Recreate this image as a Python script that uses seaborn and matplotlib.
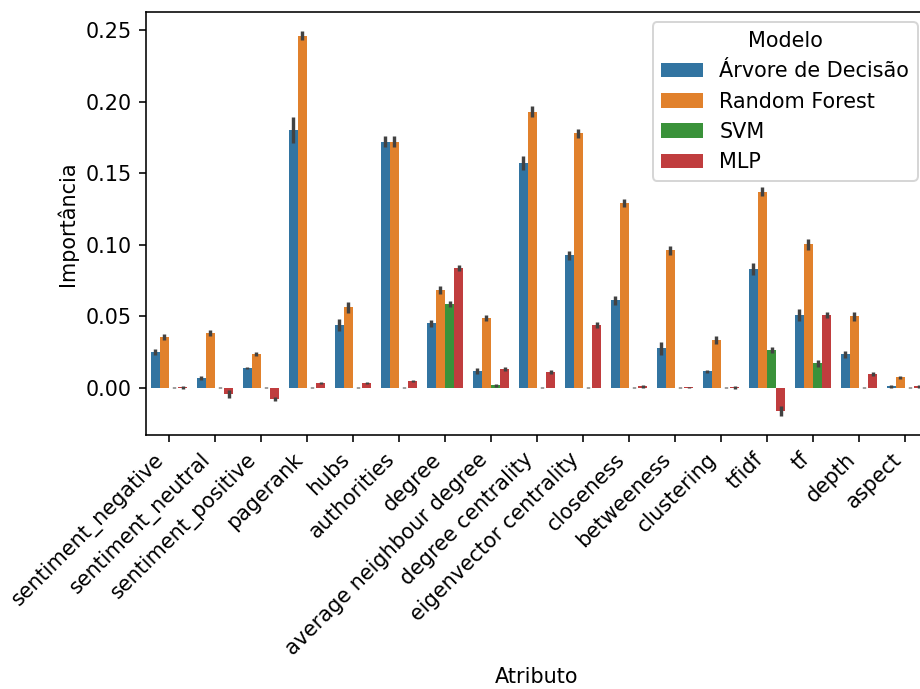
import pandas as pd
import numpy as np
import matplotlib
matplotlib.use("Agg")
import matplotlib.pyplot as plt
import seaborn as sns

atributos = ['sentiment_negative', 'sentiment_neutral', 'sentiment_positive', 'pagerank',
             'hubs', 'authorities', 'degree', 'average neighbour degree', 'degree centrality',
             'eigenvector centrality', 'closeness', 'betweeness', 'clustering', 'tfidf', 'tf',
             'depth', 'aspect']
modelos = ['Árvore de Decisão', 'Random Forest', 'SVM', 'MLP']

arvore = [0.025, 0.0068, 0.0138, 0.180, 0.0438, 0.172, 0.0452, 0.0117, 0.157, 0.0925,
          0.0612, 0.0277, 0.0116, 0.0829, 0.0508, 0.0235, 0.0012]
arvore_err = [0.002, 0.0015, 0.001, 0.009, 0.004, 0.004, 0.0025, 0.002, 0.005, 0.003,
              0.003, 0.0045, 0.001, 0.004, 0.004, 0.0025, 0.001]
forest = [0.0354, 0.0382, 0.0235, 0.246, 0.0563, 0.172, 0.0682, 0.0487, 0.193, 0.1778,
          0.129, 0.096, 0.0333, 0.137, 0.1003, 0.050, 0.0075]
forest_err = [0.002, 0.002, 0.0015, 0.003, 0.004, 0.004, 0.003, 0.002, 0.004, 0.003,
              0.003, 0.003, 0.003, 0.003, 0.004, 0.003, 0.001]
svm = [0.0002, 0.0002, 0.0002, 0.0002, 0.0002, 0.0002, 0.0584, 0.0019, 0.0002, 0.0002,
       0.0002, 0.0002, 0.0002, 0.0263, 0.0172, 0.0002, 0.0002]
svm_err = [0.0005, 0.0005, 0.0005, 0.0005, 0.0005, 0.0005, 0.002, 0.001, 0.0005, 0.0005,
           0.0005, 0.0005, 0.0005, 0.002, 0.0025, 0.0005, 0.0005]
mlp = [0.0005, -0.0042, -0.0077, 0.0033, 0.0033, 0.0048, 0.0836, 0.013, 0.011, 0.0437,
       0.001, 0.0003, 0.0003, -0.016, 0.0508, 0.0095, 0.001]
mlp_err = [0.001, 0.003, 0.0015, 0.0008, 0.0008, 0.0008, 0.002, 0.0015, 0.0015, 0.002,
           0.0008, 0.0005, 0.001, 0.0035, 0.002, 0.0015, 0.0008]

valores = [arvore, forest, svm, mlp]
erros = [arvore_err, forest_err, svm_err, mlp_err]

rows = []
for modelo, vals in zip(modelos, valores):
    for atr, v in zip(atributos, vals):
        rows.append([atr, modelo, v])
df = pd.DataFrame(rows, columns=['Atributo', 'Modelo', 'Importância'])

plt.rcParams.update({'font.size': 10.4})
fig = plt.figure(figsize=(920 / 144, 689 / 144), dpi=144)
ax = fig.add_axes([0.1587, 0.3686, 0.85, 0.614])
sns.barplot(data=df, x='Atributo', y='Importância', hue='Modelo', hue_order=modelos,
            order=atributos, palette='tab10', errorbar=None, ax=ax)

# error bars at the tip of each bar
for container, errs in zip(ax.containers, erros):
    for bar, e in zip(container.patches, errs):
        cx = bar.get_x() + bar.get_width() / 2
        tip = bar.get_y() + bar.get_height()
        ax.plot([cx, cx], [tip - e, tip + e], color='.26', lw=1.7, solid_capstyle='butt', zorder=3)

ax.set_xlim(-0.5, len(atributos) - 0.5)
ax.set_ylim(-0.033, 0.2626)
plt.xticks(rotation=45, ha='right')
ax.legend(title='Modelo', loc='upper right')

fig.savefig('out.png', dpi=144)
